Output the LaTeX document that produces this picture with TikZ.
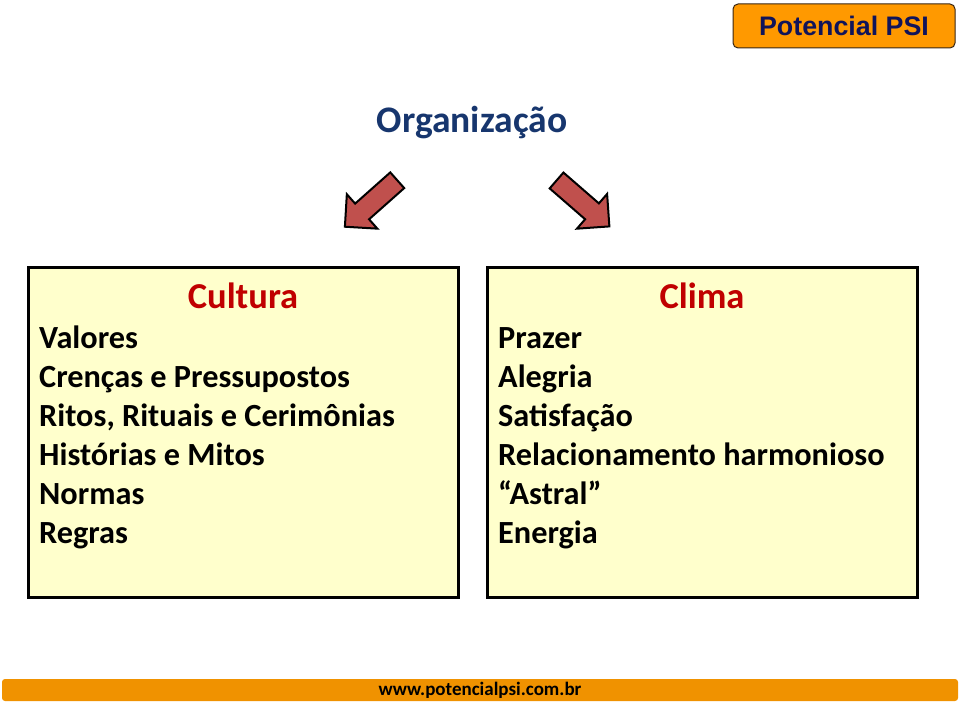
\documentclass[tikz,border=0pt]{standalone}
\usepackage{fontspec}
\setmainfont{Carlito}
\newfontfamily\arialfont{Liberation Sans}
\usetikzlibrary{shapes.arrows,positioning}
\definecolor{navy}{RGB}{23,54,110}
\definecolor{logonavy}{RGB}{16,20,90}
\definecolor{logoorange}{RGB}{255,153,0}
\definecolor{footorange}{RGB}{240,146,0}
\definecolor{paper}{RGB}{255,255,204}
\definecolor{headred}{RGB}{192,0,0}
\definecolor{arrowred}{RGB}{192,80,77}
\begin{document}
\begin{tikzpicture}[x=1pt,y=-1pt,
panel/.style={draw=black, line width=3pt, fill=paper, minimum width=430pt,
    minimum height=330pt, inner sep=0pt},
heading/.style={font=\fontsize{36.5}{40}\selectfont\bfseries, text=headred, inner sep=0pt},
item/.style={font=\fontsize{32.3}{39}\selectfont\bfseries, anchor=base west, inner sep=0pt},
bigarrow/.style={single arrow, draw=black, line width=2pt, fill=arrowred,
    minimum height=70pt, minimum width=44pt, single arrow head extend=12.5pt, inner sep=9.5pt}]
\useasboundingbox (0,0) rectangle (960,706);
\node[draw=black!70!brown, line width=1pt, rounded corners=5pt, fill=logoorange,
    minimum width=222pt, minimum height=44pt, text=logonavy,
    font=\arialfont\bfseries\fontsize{26.8}{30}\selectfont] (logo) at (844,26) {Potencial PSI};
\node[font=\fontsize{37.5}{42}\selectfont\bfseries, text=navy] (org) at (472,123) {Organização};
\node[bigarrow, rotate=221.6] (arrleft) at (375,200) {};
\node[bigarrow, rotate=-41] (arrright) at (579,200) {};
\node[panel] (cultura) at (243,432) {};
\node[panel] (clima) at (702,432) {};
\node[heading] (cultitle) at (243,296) {Cultura};
\node[heading] (climtitle) at (702,296) {Clima};
\foreach \t [count=\i] in {Valores, Crenças e Pressupostos, {Ritos, Rituais e Cerimônias},
    Histórias e Mitos, Normas, Regras}
  \node[item] (cult-\i) at (39,348+39*\i-39) {\t};
\foreach \t [count=\i] in {Prazer, Alegria, Satisfação, Relacionamento harmonioso,
    “Astral”, Energia}
  \node[item] (clim-\i) at (498,348+39*\i-39) {\t};
\node[fill=footorange, rounded corners=3pt, minimum width=956pt, minimum height=22pt,
    inner sep=0pt, font=\fontsize{19}{22}\selectfont\bfseries] (footer) at (480,690)
    {www.potencialpsi.com.br};
\end{tikzpicture}
\end{document}
